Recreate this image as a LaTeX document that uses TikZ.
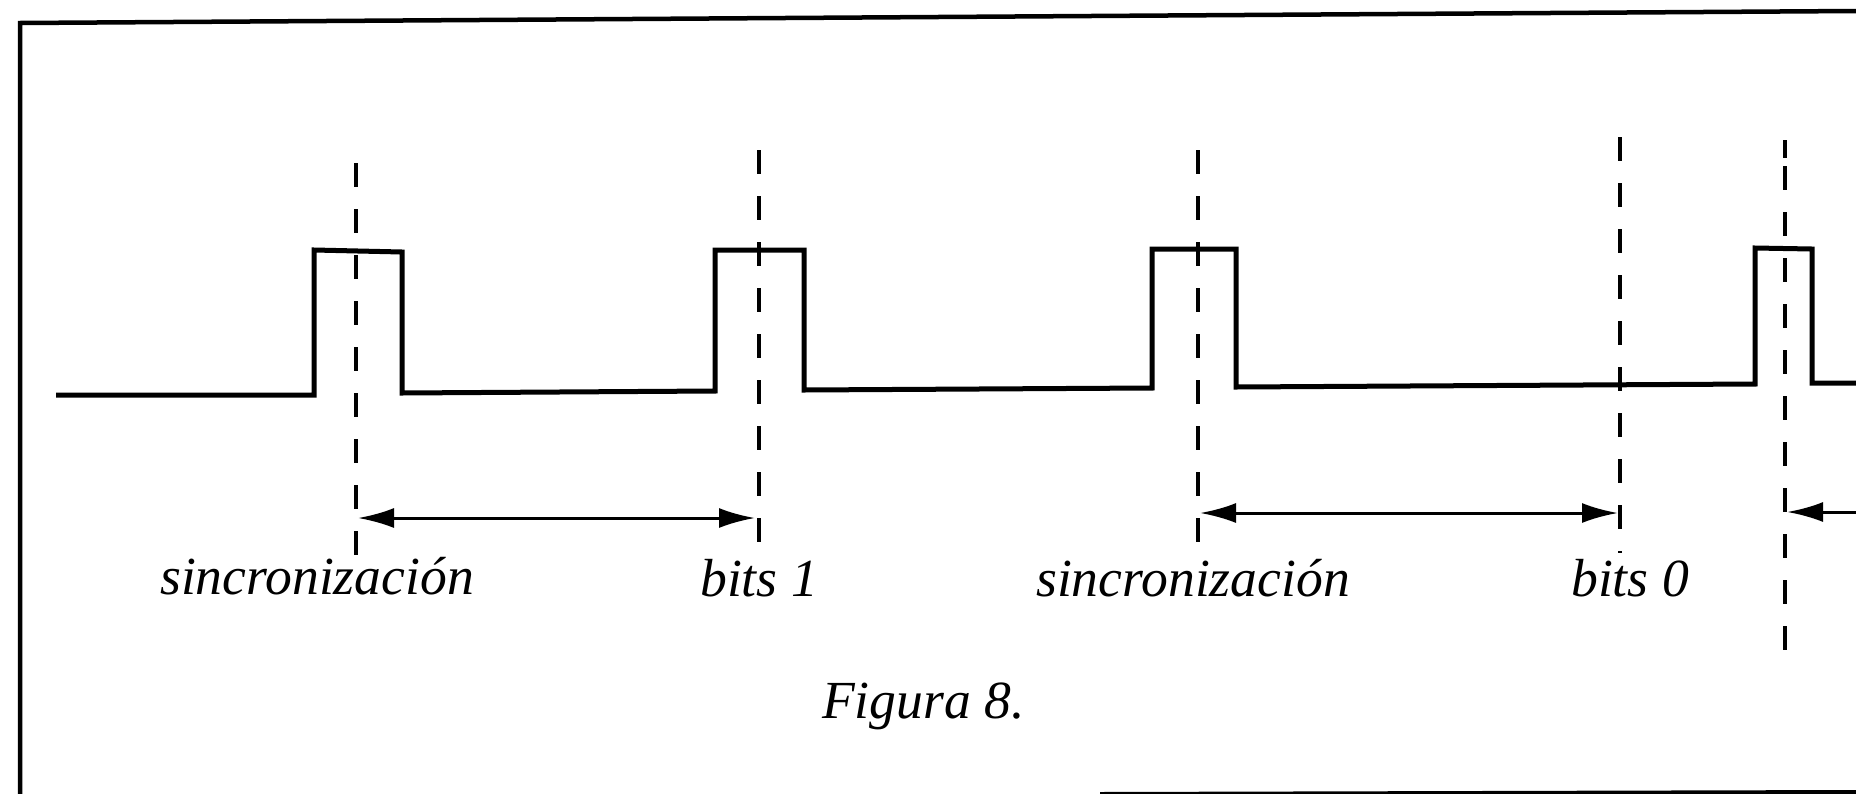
\documentclass[tikz,border=0pt]{standalone}
\usepackage{fontspec}
\setmainfont{Liberation Serif}
\usetikzlibrary{arrows.meta}
\begin{document}
\begin{tikzpicture}[x=1pt,y=-1pt,
  frameline/.style={line width=4.5pt,line cap=round},
  signal/.style={line width=5pt,line join=miter},
  guide/.style={line width=3.5pt,dash pattern=on 24pt off 22pt},
  dimarrow/.style={line width=3pt,{Latex[length=36pt,width=20pt]}-{Latex[length=36pt,width=20pt]}},
  leftarrow/.style={line width=3pt,{Latex[length=36pt,width=20pt]}-},
  lbl/.style={font=\fontsize{53.6}{60}\selectfont\itshape,anchor=base west,inner sep=0pt}]
\useasboundingbox (0,0) rectangle (1856,793);
\fill[white] (0,0) rectangle (1856,793);
% frame
\draw[frameline] (20,795) -- (20,23) -- (1856,11);
\draw[line width=4pt] (1100,794) -- (1856,792);
% signal
\draw[signal] (56,395) -- (314,395) -- (314,250) -- (402,252) -- (402,393)
  -- (715,391) -- (715,250) -- (804,250) -- (804,390)
  -- (1152,388) -- (1152,249) -- (1236,249) -- (1236,387)
  -- (1755,384) -- (1755,248) -- (1812,249) -- (1812,383) -- (1856,383);
% guide lines
\draw[guide] (356,163) -- (356,555);
\draw[guide] (759,150) -- (759,543);
\draw[guide] (1198,150) -- (1198,553);
\draw[guide] (1620,137) -- (1620,553);
\draw[guide] (1785,166) -- (1785,650);
\draw[line width=3.5pt] (1785,140) -- (1785,158);
% arrows
\coordinate (a1l) at (358,518);
\coordinate (a1r) at (755,518);
\coordinate (a2l) at (1200,513);
\coordinate (a2r) at (1618,513);
\coordinate (a3l) at (1787,512);
\coordinate (a3r) at (1856,512);
\draw[dimarrow] (a1l) -- (a1r);
\draw[dimarrow] (a2l) -- (a2r);
\draw[leftarrow] (a3l) -- (a3r);
% labels
\node[lbl] (s1) at (160,594) {sincronización};
\node[lbl] (b1) at (700,596) {bits 1};
\node[lbl] (s2) at (1036,596) {sincronización};
\node[lbl] (b0) at (1571,596) {bits 0};
\node[lbl] (fig) at (822,718) {Figura 8.};
\end{tikzpicture}
\end{document}
